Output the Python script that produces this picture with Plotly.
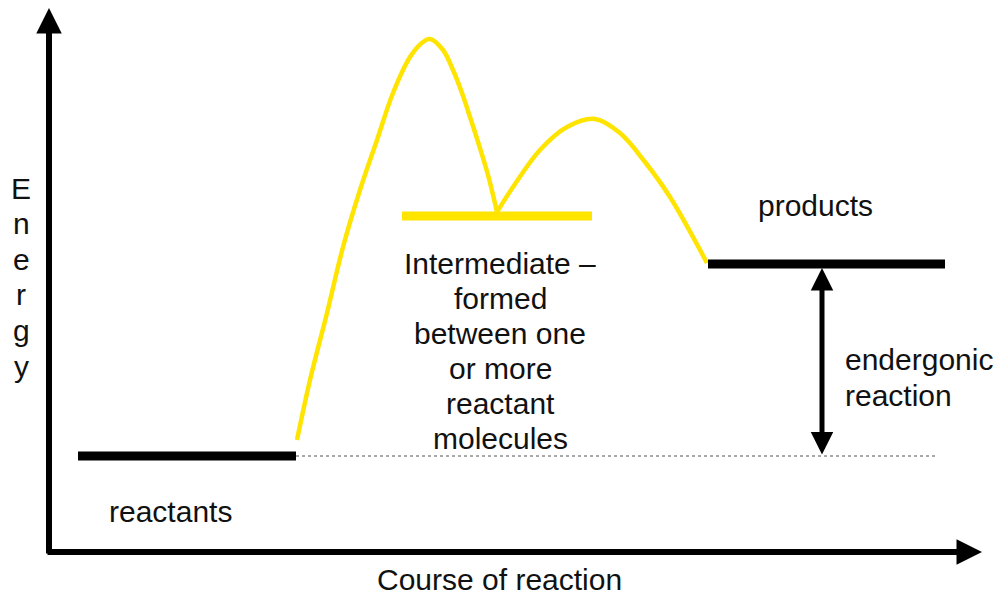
import plotly.graph_objects as go

# energy levels (y grows upward, in chart units)
reactant_level = 149
intermediate_level = 389
product_level = 341

reactant_x = [78, 296]
intermediate_x = [402, 592]
product_x = [708, 945]
dotted_x = [296, 935]

# reaction path, split at the intermediate cusp
hump1_x = [297, 310, 327, 343, 360, 377, 393, 410, 423, 430, 443, 453, 462, 470, 479, 488, 497]
hump1_y = [165, 225, 292, 358, 415, 465, 512, 548, 563, 566, 555, 535, 512, 488, 460, 430, 393]
hump2_x = [497, 513, 540, 567, 595, 620, 645, 670, 707]
hump2_y = [393, 418, 455, 478, 486, 472, 443, 408, 342]

# axes of the diagram
axis_origin = (49, 53)
axis_x_end = 982
axis_y_end = 597
delta_x = 822

energy_letters = ["E", "n", "e", "r", "g", "y"]
intermediate_lines = ["Intermediate –", "formed", "between one", "or more", "reactant", "molecules"]
endergonic_lines = ["endergonic", "reaction"]

YELLOW = "#FFE400"
FONT = "Liberation Sans, Arial, sans-serif"

fig = go.Figure()

fig.add_trace(go.Scatter(x=dotted_x, y=[reactant_level] * 2, mode="lines",
                         line=dict(color="#555555", width=1, dash="dot")))
fig.add_trace(go.Scatter(x=hump1_x, y=hump1_y, mode="lines", line_shape="spline",
                         line=dict(color=YELLOW, width=4.5)))
fig.add_trace(go.Scatter(x=hump2_x, y=hump2_y, mode="lines", line_shape="spline",
                         line=dict(color=YELLOW, width=4.5)))
fig.add_trace(go.Scatter(x=reactant_x, y=[reactant_level] * 2, mode="lines",
                         line=dict(color="black", width=9)))
fig.add_trace(go.Scatter(x=intermediate_x, y=[intermediate_level] * 2, mode="lines",
                         line=dict(color=YELLOW, width=9)))
fig.add_trace(go.Scatter(x=product_x, y=[product_level] * 2, mode="lines",
                         line=dict(color="black", width=9)))


def arrow(x0, y0, x1, y1, width, size, both=False):
    fig.add_annotation(x=x1, y=y1, ax=x0, ay=y0, xref="x", yref="y", axref="x", ayref="y",
                       text="", showarrow=True, arrowhead=2, arrowsize=size,
                       arrowwidth=width, arrowcolor="black",
                       arrowside="end+start" if both else "end",
                       startarrowhead=2, startarrowsize=size)


ox, oy = axis_origin
arrow(ox, oy - 3, ox, axis_y_end, 6, 0.85)
arrow(ox - 3, oy, axis_x_end, oy, 6, 0.85)
arrow(delta_x, reactant_level, delta_x, product_level - 4, 5, 0.9, both=True)


def label(x, y, text, xanchor="center"):
    fig.add_annotation(x=x, y=y, xref="x", yref="y", text=text, showarrow=False,
                       xanchor=xanchor, yanchor="middle",
                       font=dict(family=FONT, size=30, color="#111111"))


for i, letter in enumerate(energy_letters):
    label(21, 417 - 35.6 * i, letter)
for i, line in enumerate(intermediate_lines):
    label(500, 342 - 35 * i, line)
for i, line in enumerate(endergonic_lines):
    label(843, 246 - 36 * i, line, xanchor="left")
label(170, 94, "reactants")
label(815, 400, "products")
label(499, 26, "Course of reaction")

# figure sits inside the page's 8px body margin, so ranges map 1:1 onto screen pixels
fig.update_xaxes(range=[8, 993], visible=False)
fig.update_yaxes(range=[8, 597], visible=False)
fig.update_layout(width=985, height=589, margin=dict(l=0, r=0, t=0, b=0),
                  showlegend=False, plot_bgcolor="white", paper_bgcolor="white")

fig.write_html("out.html")
